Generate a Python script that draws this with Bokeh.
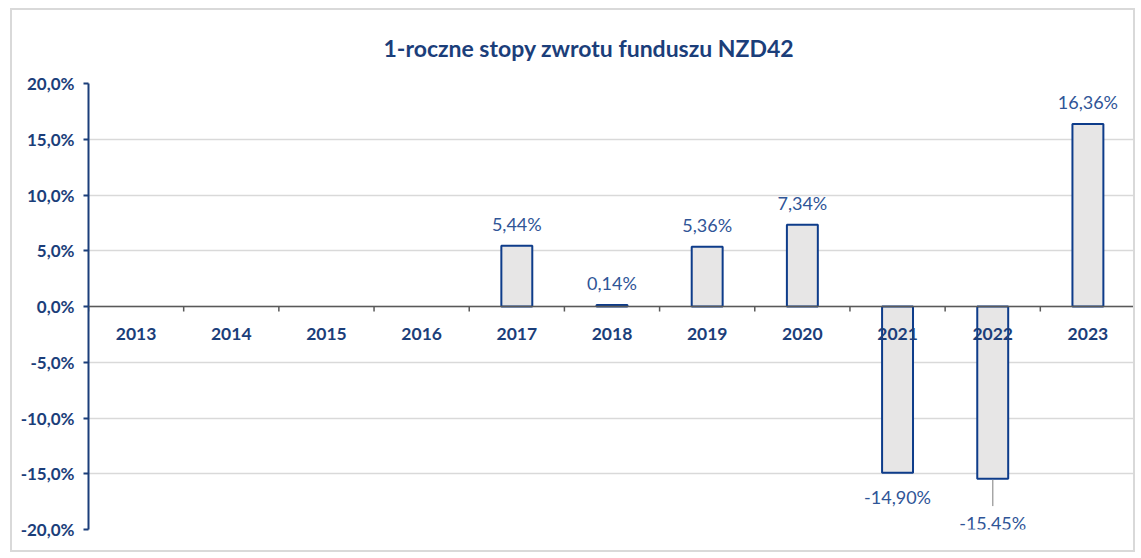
import numpy as np
from bokeh.plotting import figure
from bokeh.models import ColumnDataSource, FixedTicker, Range1d, LabelSet, Span
from bokeh.core.properties import value
from bokeh.embed import file_html
from bokeh.resources import INLINE

# ---- data ----
title_text = "1-roczne stopy zwrotu funduszu NZD42"
years = ["2013", "2014", "2015", "2016", "2017", "2018", "2019", "2020", "2021", "2022", "2023"]
returns = [None, None, None, None, 5.44, 0.14, 5.36, 7.34, -14.90, -15.45, 16.36]
y_ticks = [-20, -15, -10, -5, 0, 5, 10, 15, 20]
y_tick_labels = ["-20,0%", "-15,0%", "-10,0%", "-5,0%", "0,0%", "5,0%", "10,0%", "15,0%", "20,0%"]

# ---- styles ----
FONT = "Lato"
DARK = "#1B3E7A"
BAR_LINE = "#0E3C8A"
LABEL_C = "#2F5597"
GRID = "#D9D9D9"
ZERO = "#595959"


def pct(v):
    return f"{v:.2f}".replace(".", ",") + "%"


xs, vals, texts, offs = [], [], [], []
for i, (yr, v) in enumerate(zip(years, returns)):
    if v is None:
        continue
    xs.append(i + 0.5)
    vals.append(v)
    texts.append(pct(v))
    off = 22 if v >= 0 else -24
    if yr == "2022":
        off = -44
    offs.append(off)

src = ColumnDataSource(dict(x=xs, top=vals, text=texts, off=offs))

p = figure(width=1125, height=544, output_backend="svg", toolbar_location=None,
           x_range=Range1d(0, len(years)), y_range=Range1d(y_ticks[0], y_ticks[-1]),
           x_axis_location=None, min_border_left=76, min_border_right=2,
           min_border_top=72, min_border_bottom=25)
p.styles = {"border": "2px solid #D9D9D9", "margin-left": "10px", "margin-top": "8px"}
p.outline_line_color = None
p.background_fill_color = "white"
p.border_fill_color = "white"

# title
p.title.text = title_text
p.title.text_font = FONT
p.title.text_font_size = "23px"
p.title.text_font_style = "bold"
p.title.text_color = DARK
p.title.align = "left"
p.title.offset = 295
p.title.standoff = 43

# y axis
yax = p.yaxis[0]
yax.ticker = FixedTicker(ticks=y_ticks, minor_ticks=[])
yax.major_label_overrides = {t: l for t, l in zip(y_ticks, y_tick_labels)}
yax.major_label_text_font = FONT
yax.major_label_text_font_size = "17px"
yax.major_label_text_font_style = "bold"
yax.major_label_text_color = DARK
yax.axis_line_color = DARK
yax.axis_line_width = 2
yax.major_tick_line_color = DARK
yax.major_tick_line_width = 2
yax.major_tick_out = 5
yax.major_tick_in = 0
yax.minor_tick_line_color = None
yax.major_label_standoff = 9

p.xgrid.visible = False
p.ygrid.ticker = FixedTicker(ticks=y_ticks)
p.ygrid.grid_line_color = GRID
p.ygrid.grid_line_width = 1.5

# bars
p.vbar(x="x", top="top", bottom=0, width=0.325, source=src,
       fill_color="#E7E6E6", line_color=BAR_LINE, line_width=2)

# zero axis line + tick marks at category boundaries
p.add_layout(Span(location=0, dimension="width", line_color=ZERO, line_width=1.5))
bounds = np.arange(len(years) + 1)
tick_len = 0.45
p.segment(x0=bounds, y0=np.zeros(len(bounds)), x1=bounds, y1=-tick_len * np.ones(len(bounds)),
          line_color=ZERO, line_width=1.5)

# category labels
cat_src = ColumnDataSource(dict(x=np.arange(len(years)) + 0.5, y=np.zeros(len(years)), text=years))
p.add_layout(LabelSet(x="x", y="y", text="text", source=cat_src, y_offset=-27,
                      text_align="center", text_baseline="middle",
                      text_font=value(FONT), text_font_size="17.5px", text_font_style="bold",
                      text_color=DARK))

# leader line for 2022 label
i22 = years.index("2022")
v22 = returns[i22]
p.segment(x0=[i22 + 0.5], y0=[v22 - 0.1], x1=[i22 + 0.5], y1=[v22 - 2.45],
          line_color="#A6A6A6", line_width=1.5)

# value labels
p.add_layout(LabelSet(x="x", y="top", text="text", source=src, y_offset="off",
                      text_align="center", text_baseline="middle",
                      text_font=value(FONT), text_font_size="18px",
                      text_color=LABEL_C))

open("out.html", "w").write(file_html(p, INLINE))
